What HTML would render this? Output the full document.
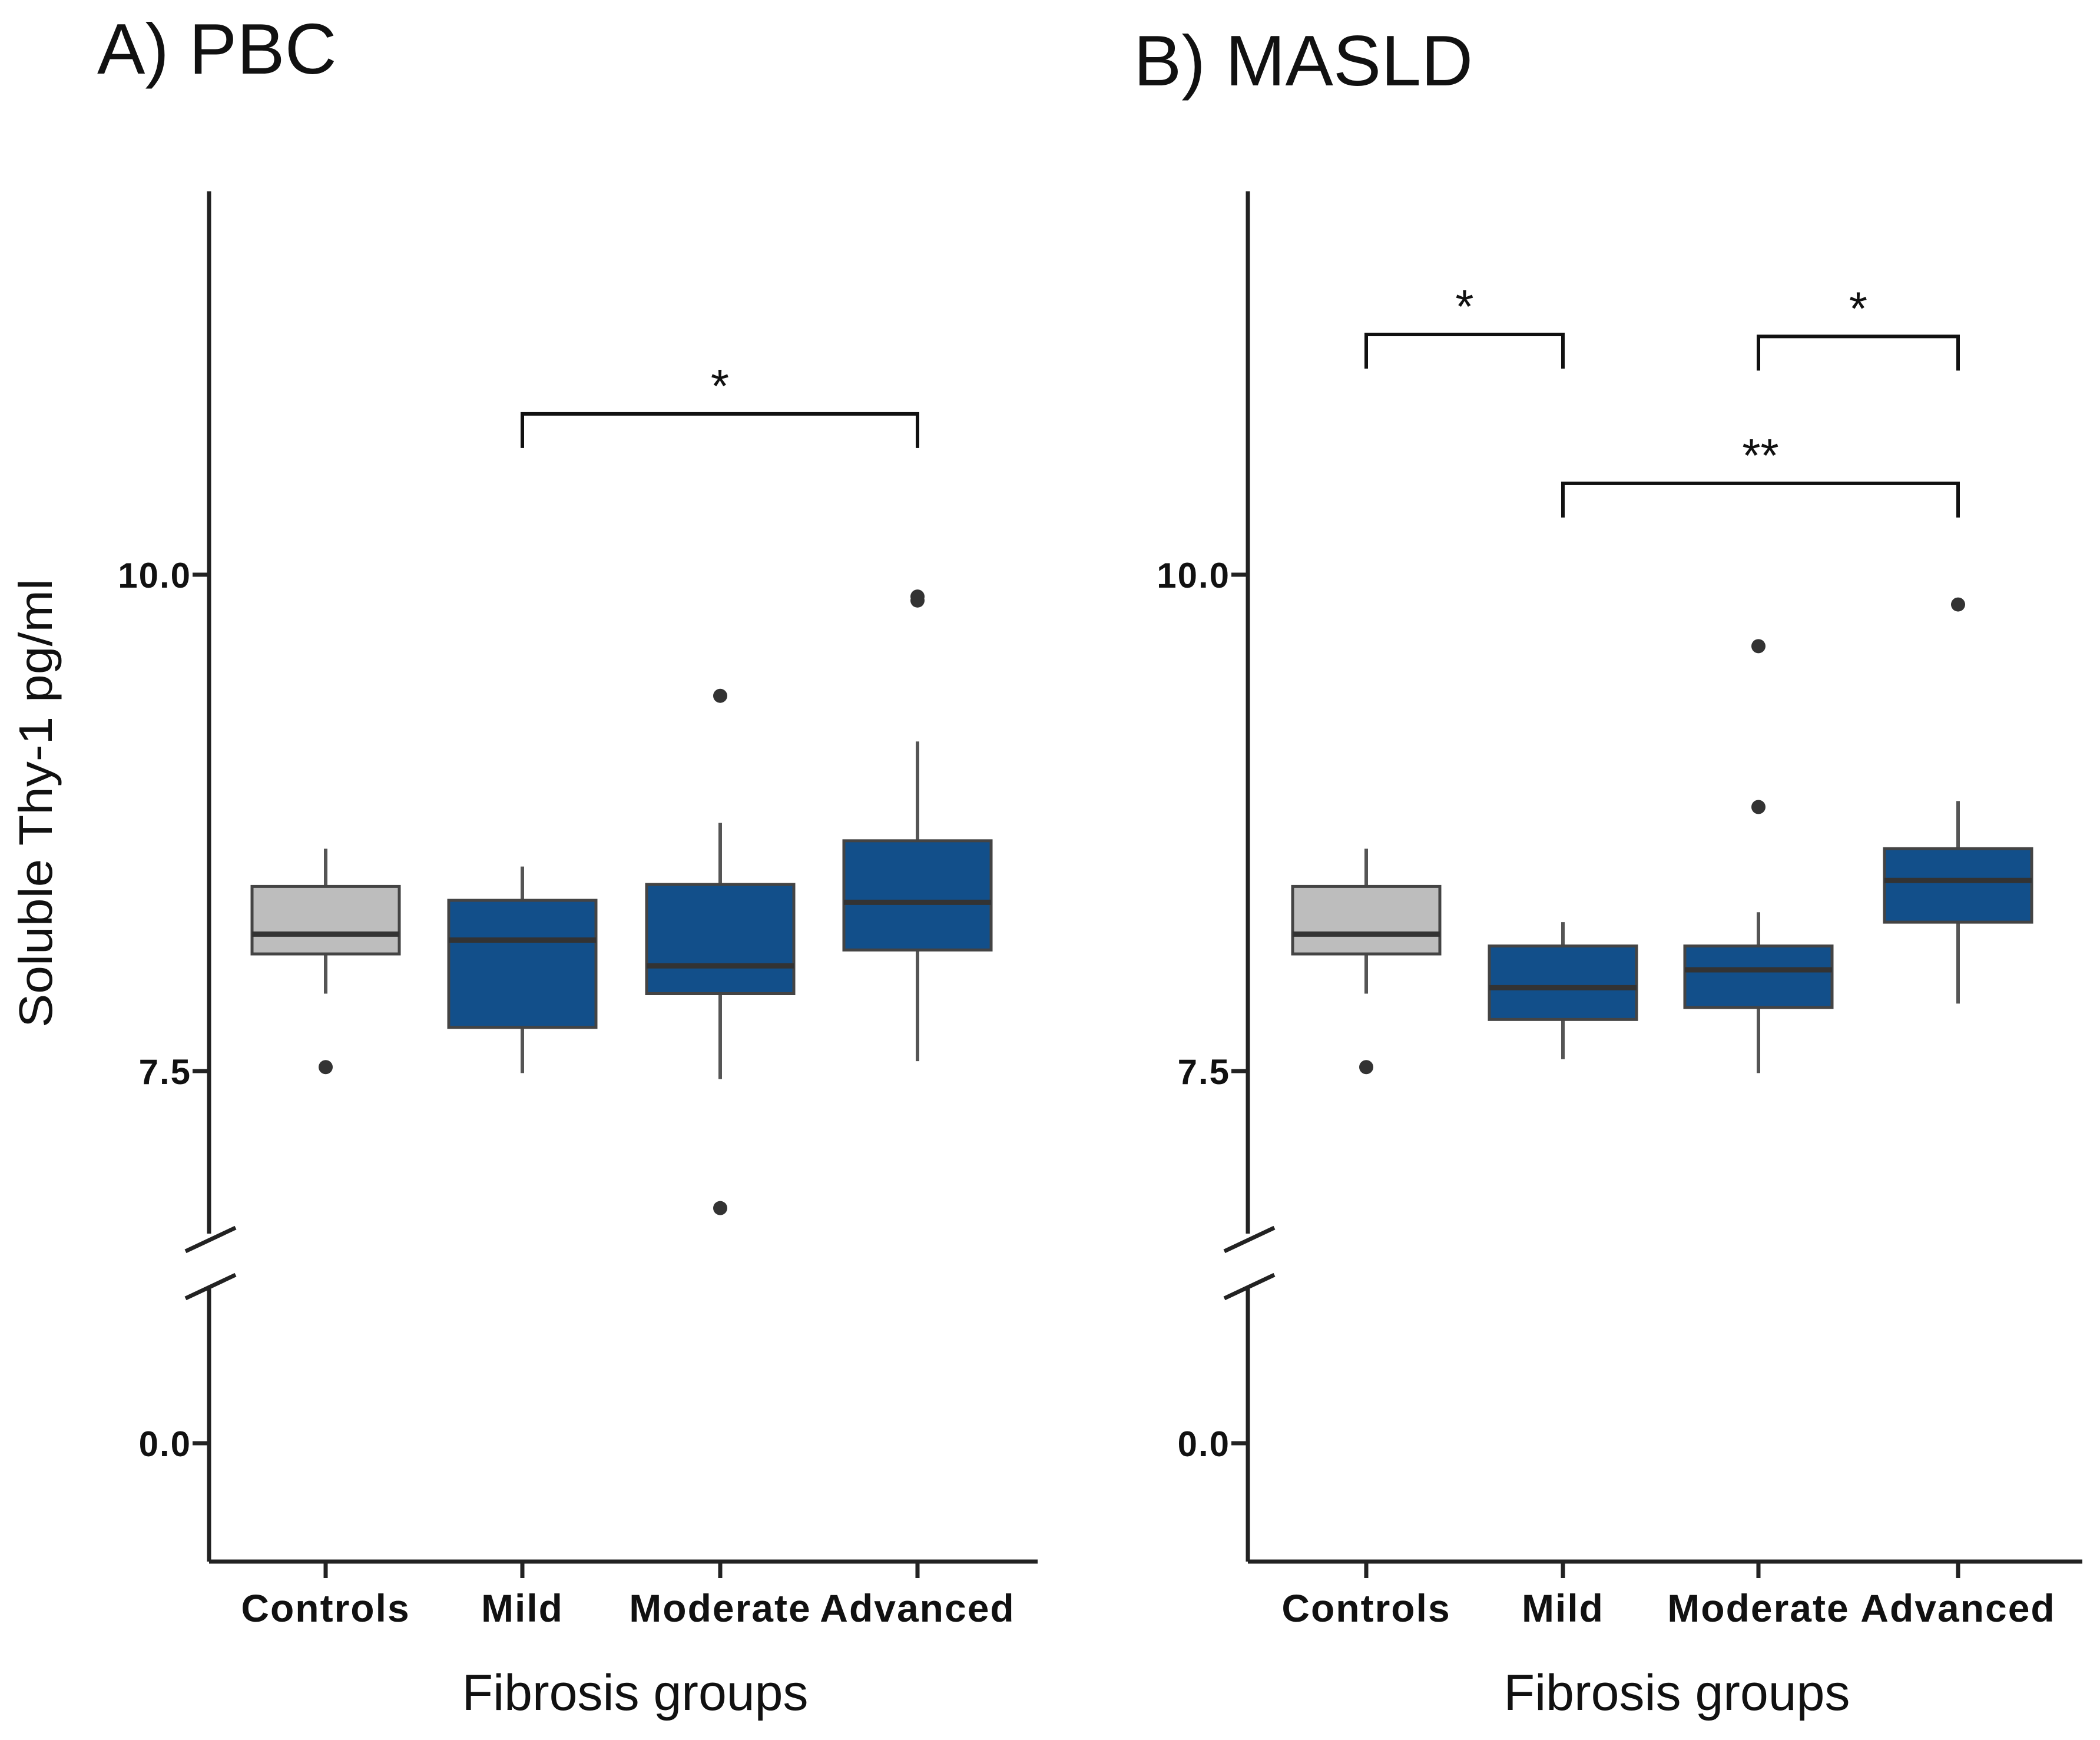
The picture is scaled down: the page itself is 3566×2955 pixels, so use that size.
<!DOCTYPE html>
<html><head><meta charset="utf-8"><style>
html,body{margin:0;padding:0;background:#fff;}
svg{display:block;font-family:"Liberation Sans",sans-serif;}
</style></head><body>
<svg id="chart" width="3566" height="2955" viewBox="0 0 3566 2955" xmlns="http://www.w3.org/2000/svg">
<rect width="3566" height="2955" fill="#fff"/>
<text x="165" y="125" font-size="122" fill="#111">A) PBC</text>
<text x="1925" y="145" font-size="122" fill="#111">B) MASLD</text>
<text transform="translate(88,1364) rotate(-90)" text-anchor="middle" font-size="80" textLength="762" lengthAdjust="spacingAndGlyphs" fill="#111">Soluble Thy-1 pg/ml</text>
<g id="plots"></g>
</svg>
<script>
const categories = ["Controls","Mild","Moderate","Advanced"];
const yTicks = [10.0, 7.5, 0.0];
const yTickLabels = ["10.0","7.5","0.0"];
// [whiskerLow, Q1, median, Q3, whiskerHigh]
const pbcStats = [[7.89,8.09,8.19,8.43,8.62],[7.49,7.72,8.16,8.36,8.53],[7.46,7.89,8.03,8.44,8.75],[7.55,8.11,8.35,8.66,9.16]];
const pbcOutliers = [[7.52],[],[9.39,6.81],[9.89,9.87]];
const masldStats = [[7.89,8.09,8.19,8.43,8.62],[7.56,7.76,7.92,8.13,8.25],[7.49,7.82,8.01,8.13,8.30],[7.84,8.25,8.46,8.62,8.86]];
const masldOutliers = [[7.52],[],[9.64,8.83],[9.85]];
const pbcBrackets = [[1,3,10.81,"*"]];
const masldBrackets = [[0,1,11.21,"*"],[2,3,11.20,"*"],[1,3,10.46,"**"]];
const fills = ["#bdbdbd","#124f8a","#124f8a","#124f8a"];

const NS="http://www.w3.org/2000/svg";
const root=document.getElementById('plots');
function mk(tag,attrs,parent){const e=document.createElementNS(NS,tag);for(const k in attrs)e.setAttribute(k,attrs[k]);(parent||root).appendChild(e);return e;}
function yScale(v){ return v>=5 ? 976 + (10-v)*337.2 : 2451 - v*62; }

function panel(name, axisX, axisRight, catX, stats, outs, brackets){
  const g=mk('g',{});
  
  
  const ya=mk('line',{x1:axisX,y1:325,x2:axisX,y2:2652,stroke:'#222','stroke-width':7},g);
  
  
  const xa=mk('line',{x1:axisX,y1:2652,x2:axisRight,y2:2652,stroke:'#222','stroke-width':7},g);
  
  
  mk('rect',{x:axisX-10,y:2095,width:20,height:90,fill:'#fff'},g);
  mk('line',{x1:axisX-40,y1:2125,x2:axisX+45,y2:2085,stroke:'#222','stroke-width':7},g);
  mk('line',{x1:axisX-40,y1:2205,x2:axisX+45,y2:2165,stroke:'#222','stroke-width':7},g);
  yTicks.forEach((t,i)=>{
    const y=yScale(t);
    mk('line',{x1:axisX-28,y1:y,x2:axisX,y2:y,stroke:'#222','stroke-width':7},g);
    const tx=mk('text',{x:axisX-30,y:y+22,'text-anchor':'end','font-size':60,'font-weight':'bold','letter-spacing':2,fill:'#111'},g);
    tx.textContent=yTickLabels[i];
    
    
  });
  categories.forEach((c,i)=>{
    const x=catX[i];
    mk('line',{x1:x,y1:2652,x2:x,y2:2680,stroke:'#222','stroke-width':7},g);
    const tx=mk('text',{x:x,y:2754,'text-anchor':'middle','font-size':66,'font-weight':'bold','letter-spacing':2,fill:'#111'},g);
    tx.textContent=c;
    
    
    const s=stats[i], hw=125;
    const bg=mk('g',{},g);
    
    
    mk('line',{x1:x,y1:yScale(s[0]),x2:x,y2:yScale(s[1]),stroke:'#555','stroke-width':6},bg);
    mk('line',{x1:x,y1:yScale(s[3]),x2:x,y2:yScale(s[4]),stroke:'#555','stroke-width':6},bg);
    mk('rect',{x:x-hw,y:yScale(s[3]),width:2*hw,height:yScale(s[1])-yScale(s[3]),fill:fills[i],stroke:'#444','stroke-width':5},bg);
    mk('line',{x1:x-hw,y1:yScale(s[2]),x2:x+hw,y2:yScale(s[2]),stroke:'#333','stroke-width':9},bg);
    outs[i].forEach(v=>{
      const o=mk('circle',{cx:x,cy:yScale(v),r:12,fill:'#333'},bg);
      
      
    });
  });
  brackets.forEach(b=>{
    const x1=catX[b[0]], x2=catX[b[1]], y=yScale(b[2]);
    const p=mk('path',{d:`M${x1} ${y+58} V${y} H${x2} V${y+58}`,fill:'none',stroke:'#111','stroke-width':6},g);
    
    
    const t=mk('text',{x:(x1+x2)/2,y:y-20,'text-anchor':'middle','font-size':80,fill:'#111'},g);
    t.textContent=b[3];
    
    
  });
  const xt=mk('text',{x:(axisX+axisRight)/2+20,y:2904,'text-anchor':'middle','font-size':86,fill:'#111'},g);
  xt.textContent='Fibrosis groups';
  
  
}
panel('pbc',355,1762,[553,887,1223,1558],pbcStats,pbcOutliers,pbcBrackets);
panel('masld',2119,3536,[2320,2654,2986,3325],masldStats,masldOutliers,masldBrackets);
</script>
</body></html>
